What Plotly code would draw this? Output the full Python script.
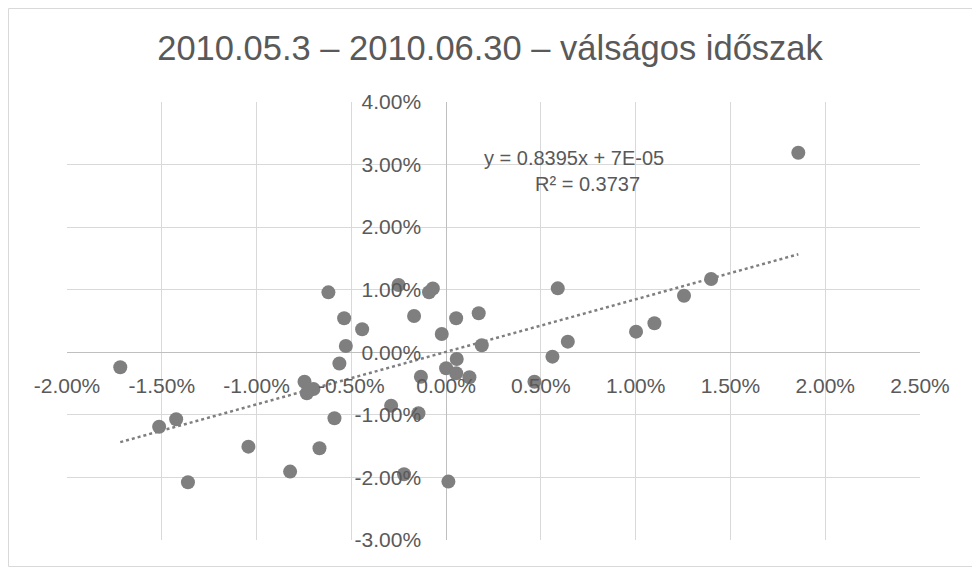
import plotly.graph_objects as go
import numpy as np

# Daily returns (fractions)
x_ret = [-0.00621, -0.00538, -0.00443, -0.00529, -0.00563, -0.01719, -0.00747, -0.00700,
         -0.00735, -0.01424, -0.01514, -0.00589, -0.01043, -0.00668, -0.00823, -0.01362,
         -0.00251, -0.00090, -0.00070, -0.00169, 0.00053, 0.00172, -0.00023, 0.00188,
         0.00056, 0.00000, 0.00053, 0.00123, -0.00133, 0.00466, 0.00561, 0.00642,
         0.00589, -0.00290, -0.00146, -0.00222, 0.00012, 0.01002, 0.01858, 0.01398,
         0.01255, 0.01099]
y_ret = [0.00958, 0.00543, 0.00367, 0.00100, -0.00180, -0.00240, -0.00470, -0.00586,
         -0.00655, -0.01070, -0.01190, -0.01055, -0.01508, -0.01534, -0.01907, -0.02077,
         0.01075, 0.00960, 0.01020, 0.00580, 0.00543, 0.00623, 0.00292, 0.00112,
         -0.00107, -0.00256, -0.00335, -0.00400, -0.00390, -0.00470, -0.00070, 0.00170,
         0.01022, -0.00853, -0.00975, -0.01949, -0.02067, 0.00330, 0.03190, 0.01171,
         0.00904, 0.00463]

slope = 0.8395
intercept = 0.00007
r2 = 0.3737

title_text = "2010.05.3 – 2010.06.30 – válságos időszak"
eq_text = "y = 0.8395x + 7E-05"
r2_text = "R² = 0.3737"
x_tick_vals = [-0.02, -0.015, -0.01, -0.005, 0.0, 0.005, 0.01, 0.015, 0.02, 0.025]
x_tick_text = ["-2.00%", "-1.50%", "-1.00%", "-0.50%", "0.00%", "0.50%", "1.00%", "1.50%", "2.00%", "2.50%"]
y_tick_vals = [-0.03, -0.02, -0.01, 0.0, 0.01, 0.02, 0.03, 0.04]
y_tick_text = ["-3.00%", "-2.00%", "-1.00%", "0.00%", "1.00%", "2.00%", "3.00%", "4.00%"]

FONT = "Liberation Sans"
GREY_TXT = "#595959"

fig = go.Figure()

tx = np.array([min(x_ret), max(x_ret)])
fig.add_trace(go.Scatter(
    x=tx, y=slope * tx + intercept, mode="lines",
    line=dict(color="#7f7f7f", width=2.5, dash="dot"),
    hoverinfo="skip", showlegend=False))

fig.add_trace(go.Scatter(
    x=x_ret, y=y_ret, mode="markers",
    marker=dict(color="#7f7f7f", size=14),
    showlegend=False))

# page has an 8px body margin; figure is sized to fit the window
W, H = 972, 560
L, R, T, B = 59, 60, 94, 28
pw, ph = W - L - R, H - T - B
x0_pos = (0 - (-0.02)) / 0.045
y0_pos = (0 - (-0.03)) / 0.07

fig.update_layout(
    width=W, height=H,
    margin=dict(l=L, r=R, t=T, b=B),
    paper_bgcolor="white", plot_bgcolor="white",
    font=dict(family=FONT, color=GREY_TXT, size=21),
    title=dict(text=title_text, x=482 / W, xanchor="center", y=1 - 40 / H, yanchor="middle",
               font=dict(family=FONT, size=34.5, color=GREY_TXT)),
    xaxis=dict(range=[-0.02, 0.025], tickvals=x_tick_vals, ticktext=x_tick_text,
               showgrid=True, gridcolor="#d9d9d9", gridwidth=1,
               zeroline=True, zerolinecolor="#bfbfbf", zerolinewidth=1,
               anchor="free", position=y0_pos, ticks="", ticklabelstandoff=19,
               showline=False, tickfont=dict(size=21, color=GREY_TXT)),
    yaxis=dict(range=[-0.03, 0.04], tickvals=y_tick_vals, ticktext=y_tick_text,
               showgrid=True, gridcolor="#d9d9d9", gridwidth=1,
               zeroline=True, zerolinecolor="#bfbfbf", zerolinewidth=1,
               anchor="free", position=x0_pos, ticks="", ticklabelstandoff=25,
               showline=False, tickfont=dict(size=21, color=GREY_TXT)),
    annotations=[
        dict(text=eq_text, x=0.00675, y=0.03104, xref="x", yref="y",
             showarrow=False, xanchor="center", yanchor="middle",
             font=dict(family=FONT, size=20, color=GREY_TXT)),
        dict(text=r2_text, x=0.00744, y=0.0269, xref="x", yref="y",
             showarrow=False, xanchor="center", yanchor="middle",
             font=dict(family=FONT, size=20, color=GREY_TXT)),
    ],
    shapes=[
        dict(type="rect", xref="paper", yref="paper",
             x0=(0.5 - L) / pw, x1=(W - 1.5 - L) / pw,
             y0=-(B - 1.5) / ph, y1=1 + (T - 0.5) / ph,
             line=dict(color="#d9d9d9", width=1), layer="below"),
    ],
)

fig.write_html("out.html")
